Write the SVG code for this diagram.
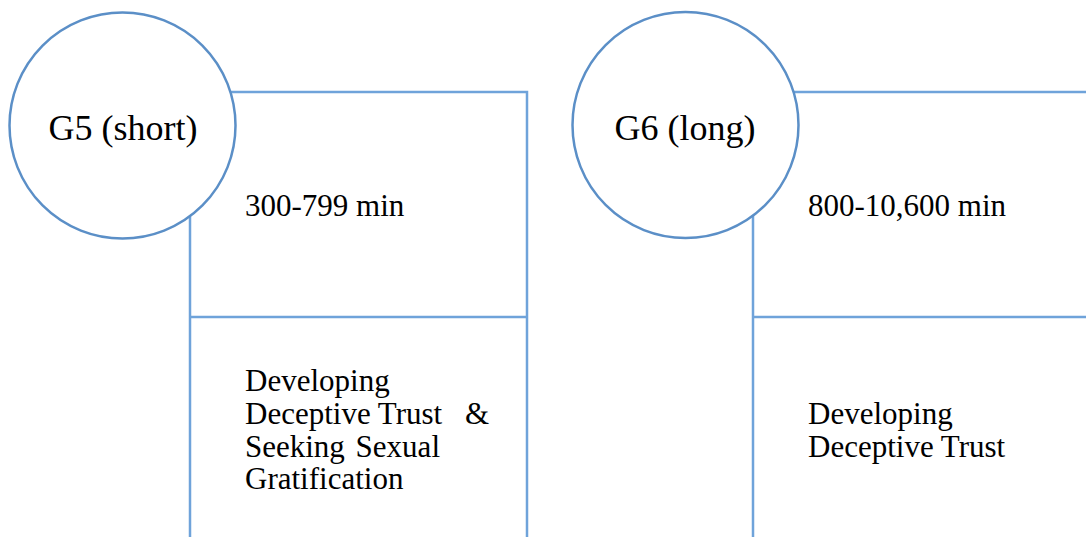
<svg xmlns="http://www.w3.org/2000/svg" width="1086" height="537" viewBox="0 0 1086 537">
  <style>
    .box { fill: #ffffff; stroke: #6FA3DA; stroke-width: 2.5; }
    .rule { stroke: #6FA3DA; stroke-width: 2.5; }
    .ring { fill: #ffffff; stroke: #5B8FC7; stroke-width: 2.5; }
    .title { font-family: "Liberation Serif", "Times New Roman", serif; font-size: 36px; fill: #000000; text-anchor: middle; }
    .label { font-family: "Liberation Serif", "Times New Roman", serif; font-size: 31px; fill: #000000; }
  </style>
  <rect width="1086" height="537" fill="#ffffff"/>

  <!-- Group G5: duration and stage panel -->
  <g id="g5-panel">
    <rect class="box" x="190" y="92" width="337" height="480"/>
    <line class="rule" x1="190" y1="317" x2="527" y2="317"/>
    <text class="label" x="245" y="216">300-799 min</text>
    <text class="label" x="245" y="391">Developing</text>
    <text class="label" x="245" y="424">Deceptive Trust</text>
    <text class="label" x="465" y="424">&amp;</text>
    <text class="label" x="245" y="457" word-spacing="3">Seeking Sexual</text>
    <text class="label" x="245" y="489">Gratification</text>
  </g>
  <g id="g5">
    <circle class="ring" cx="122.5" cy="125.5" r="113"/>
    <text class="title" x="123" y="140">G5 (short)</text>
  </g>

  <!-- Group G6: duration and stage panel -->
  <g id="g6-panel">
    <rect class="box" x="753" y="92" width="400" height="480"/>
    <line class="rule" x1="753" y1="317" x2="1100" y2="317"/>
    <text class="label" x="808" y="216">800-10,600 min</text>
    <text class="label" x="808" y="424">Developing</text>
    <text class="label" x="808" y="457">Deceptive Trust</text>
  </g>
  <g id="g6">
    <circle class="ring" cx="685.5" cy="125" r="113"/>
    <text class="title" x="685" y="140">G6 (long)</text>
  </g>
</svg>
